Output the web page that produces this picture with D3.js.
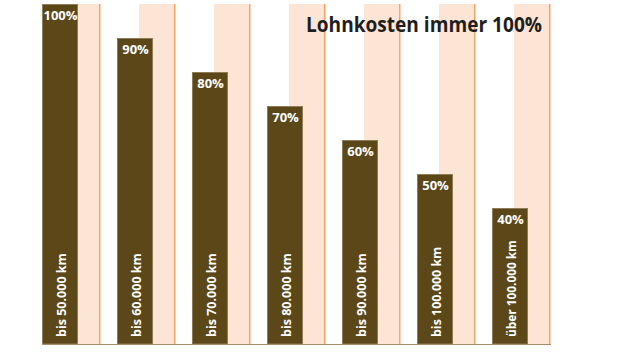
<!DOCTYPE html>
<html>
<head>
<meta charset="utf-8">
<script src="https://cdn.jsdelivr.net/npm/d3@7"></script>
<style>
  body { margin: 0; background: #fff; }
  svg { display: block; }
</style>
</head>
<body>
<script>
// data
var categories = [ 'bis 50.000 km', 'bis 60.000 km', 'bis 70.000 km', 'bis 80.000 km',
                   'bis 90.000 km', 'bis 100.000 km', 'über 100.000 km' ];
var values = [ 100, 90, 80, 70, 60, 50, 40 ];
var labels = [ '100%', '90%', '80%', '70%', '60%', '50%', '40%' ];
var title = 'Lohnkosten immer 100%';

var width = 634, height = 359;

var svg = d3.select( 'body' )
    .append( 'svg' )
    .attr( 'width', width )
    .attr( 'height', height );

var x = d3.scaleBand()
    .domain( categories )
    .range( [ 42, 528 ] )
    .paddingInner( 0.52 )
    .paddingOuter( 0 );

var y = d3.scaleLinear()
    .domain( [ 0, 100 ] )
    .range( [ 344, 4 ] );

var bw = x.bandwidth();

//pale background bands behind each bar
svg.selectAll( 'rect.band' )
    .data( categories )
    .enter().append( 'rect' )
    .attr( 'class', 'band' )
    .attr( 'x', function ( d ) { return x( d ) + 22; } )
    .attr( 'y', y( 100 ) )
    .attr( 'width', 35 )
    .attr( 'height', y( 0 ) - y( 100 ) )
    .attr( 'fill', '#fde5d5' );

//orange separator lines
svg.selectAll( 'line.sep' )
    .data( categories )
    .enter().append( 'line' )
    .attr( 'class', 'sep' )
    .attr( 'x1', function ( d ) { return x( d ) + 57.75; } )
    .attr( 'x2', function ( d ) { return x( d ) + 57.75; } )
    .attr( 'y1', y( 100 ) )
    .attr( 'y2', y( 0 ) )
    .attr( 'stroke', '#f6a466' )
    .attr( 'stroke-width', 1.5 );

//title
svg.append( 'text' )
    .attr( 'x', 542 )
    .attr( 'y', 32 )
    .attr( 'text-anchor', 'end' )
    .attr( 'font-family', 'Open Sans' )
    .attr( 'font-weight', 700 )
    .attr( 'font-size', 20.5 )
    .attr( 'textLength', 236 )
    .attr( 'lengthAdjust', 'spacingAndGlyphs' )
    .attr( 'fill', '#1e1e1e' )
    .text( title );

//bars
svg.selectAll( 'rect.bar' )
    .data( values )
    .enter().append( 'rect' )
    .attr( 'class', 'bar' )
    .attr( 'x', function ( d, i ) { return x( categories[ i ] ) + 0.5; } )
    .attr( 'y', function ( d ) { return y( d ) + 0.5; } )
    .attr( 'width', bw - 1 )
    .attr( 'height', function ( d ) { return y( 0 ) - y( d ) - 0.5; } )
    .attr( 'fill', '#5c4719' )
    .attr( 'stroke', '#8f7c57' )
    .attr( 'stroke-width', 1 );

//baseline
svg.append( 'line' )
    .attr( 'x1', x( categories[ 0 ] ) )
    .attr( 'x2', x( categories[ categories.length - 1 ] ) + 59 )
    .attr( 'y1', y( 0 ) + 0.5 )
    .attr( 'y2', y( 0 ) + 0.5 )
    .attr( 'stroke', '#a38f68' )
    .attr( 'stroke-width', 1 );

//percent labels
svg.selectAll( 'text.pct' )
    .data( values )
    .enter().append( 'text' )
    .attr( 'class', 'pct' )
    .attr( 'x', function ( d, i ) { return x( categories[ i ] ) + bw / 2 + 0.5; } )
    .attr( 'y', function ( d ) { return y( d ) + 16; } )
    .attr( 'text-anchor', 'middle' )
    .attr( 'font-family', 'Open Sans' )
    .attr( 'font-weight', 700 )
    .attr( 'font-size', 13 )
    .attr( 'fill', '#fff' )
    .text( function ( d, i ) { return labels[ i ]; } );

//category labels, rotated inside bars
svg.selectAll( 'text.cat' )
    .data( categories )
    .enter().append( 'text' )
    .attr( 'class', 'cat' )
    .attr( 'transform', function ( d ) {
        return 'translate(' + ( x( d ) + 24 ) + ',' + ( y( 0 ) - 7 ) + ') rotate(-90)';
    } )
    .attr( 'font-family', 'Open Sans' )
    .attr( 'font-weight', 700 )
    .attr( 'font-size', 12 )
    .attr( 'textLength', function ( d ) { return d.length * 6.45; } )
    .attr( 'lengthAdjust', 'spacingAndGlyphs' )
    .attr( 'fill', '#fff' )
    .text( function ( d ) { return d; } );
</script>
</body>
</html>
